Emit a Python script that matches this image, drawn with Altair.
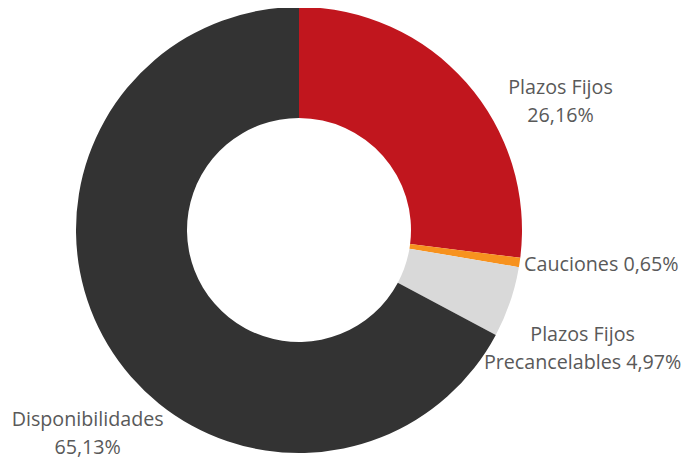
import altair as alt
import pandas as pd

categories = ["Plazos Fijos", "Cauciones", "Plazos Fijos Precancelables", "Disponibilidades"]
values = [26.16, 0.65, 4.97, 65.13]
labels = ["Plazos Fijos\n26,16%", "Cauciones 0,65%", "Plazos Fijos\nPrecancelables 4,97%", "Disponibilidades\n65,13%"]
colors = ["#C1161E", "#F7921E", "#D9D9D9", "#333333"]

df = pd.DataFrame({
    "category": categories,
    "value": values,
    "label": labels,
    "order": list(range(len(categories))),
})

arc = alt.Chart(df).mark_arc(innerRadius=112, outerRadius=223).encode(
    theta=alt.Theta("value:Q", stack=True),
    color=alt.Color("category:N", scale=alt.Scale(domain=categories, range=colors), legend=None),
    order=alt.Order("order:Q"),
)

base_text = alt.Chart(df).transform_window(
    cum="sum(value)", sort=[alt.SortField("order", order="ascending")]
).transform_calculate(mid="datum.cum - datum.value / 2")

offsets = {
    "Plazos Fijos": (74, 23),
    "Cauciones": (55, -1),
    "Plazos Fijos Precancelables": (47, 24),
    "Disponibilidades": (3, 61),
}

layers = []
for c in categories:
    dx, dy = offsets[c]
    layers.append(
        base_text.transform_filter(alt.datum.category == c).mark_text(
            radius=250, dx=dx, dy=dy, align="center", baseline="middle",
            lineBreak="\n", lineHeight=28, font="Open Sans", fontSize=19.7,
            color="#595959",
        ).encode(
            theta=alt.Theta("mid:Q", stack=False),
            text="label:N",
        )
    )

chart = alt.layer(arc, *layers).properties(
    width=582, height=444,
    padding={"left": 0, "top": 0, "right": 92, "bottom": 7},
    autosize=alt.AutoSizeParams(type="none"),
).configure_view(stroke=None)

chart.save("out.html", embed_options={"renderer": "svg", "actions": False})
